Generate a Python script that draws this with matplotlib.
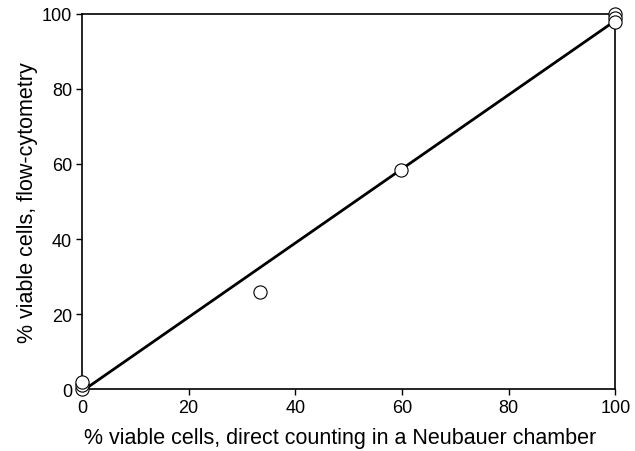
import matplotlib
matplotlib.use("Agg")
import matplotlib.pyplot as plt
import numpy as np

plt.rcParams['font.family'] = ['Liberation Sans', 'DejaVu Sans']

# data
direct_count = [0, 0, 0, 33.3, 59.8, 100, 100, 100]
flow_cytometry = [0.0, 1.0, 2.0, 26.0, 58.5, 100.0, 99.0, 97.8]
fit_x = [0, 100]
fit_y = [-0.6, 98.2]
x_ticks = [0, 20, 40, 60, 80, 100]
y_ticks = [0, 20, 40, 60, 80, 100]

fig = plt.figure(figsize=(6.35, 4.52), dpi=100)
ax = fig.add_axes([0.129, 0.137, 0.84, 0.83])

ax.plot(fit_x, fit_y, color='black', lw=2, zorder=2, clip_on=False)
ax.plot(direct_count, flow_cytometry, 'o', mfc='white', mec='black', mew=0.8,
        ms=9.5, zorder=3, clip_on=False)

ax.set_xlim(0, 100)
ax.set_ylim(0, 100)
ax.set_xticks(x_ticks)
ax.set_yticks(y_ticks)
ax.tick_params(direction='out', length=4, width=1, labelsize=13, colors='black', pad=3)
for s in ax.spines.values():
    s.set_linewidth(1.2)
    s.set_color('black')

ax.set_xlabel('% viable cells, direct counting in a Neubauer chamber', fontsize=15.5)
ax.xaxis.set_label_coords(0.484, -0.1)
ax.set_ylabel('% viable cells, flow-cytometry', fontsize=15.5, labelpad=3)

fig.savefig('out.png', dpi=100)
